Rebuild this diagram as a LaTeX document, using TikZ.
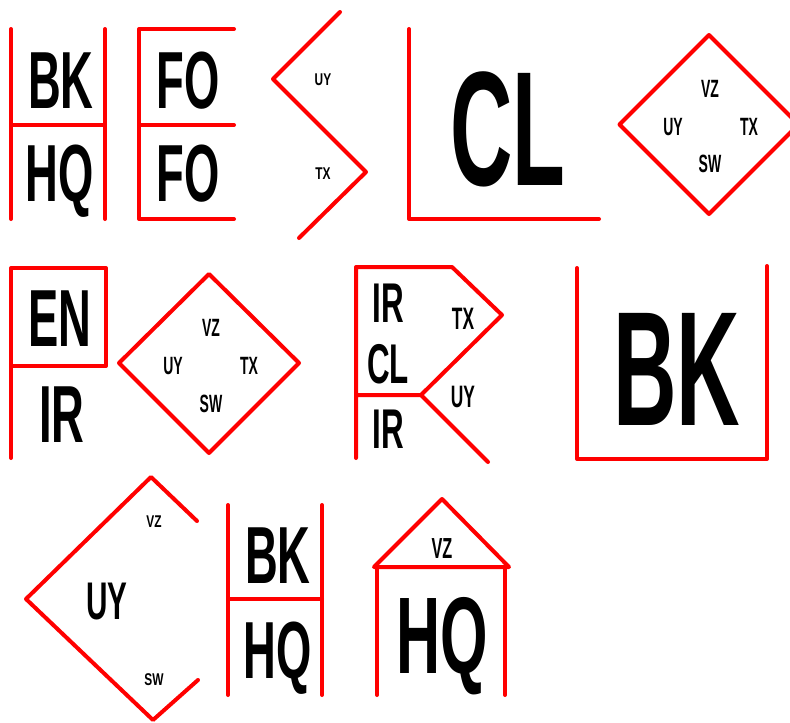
\documentclass[tikz,border=0pt]{standalone}
\usepackage{fontspec}
\setmainfont{Liberation Sans}
\usepackage{graphicx}
\newcommand{\lbl}[3][0.56]{\scalebox{#1}[1]{\fontsize{#2pt}{#2pt}\bfseries\selectfont #3}}
\tikzset{
  redline/.style={draw={rgb,255:red,255;green,0;blue,0}, line width=4pt, line cap=round, line join=round},
  lab/.style={inner sep=0pt, anchor=base, text=black}
}
\begin{document}
\begin{tikzpicture}[x=1pt,y=-1pt]
\useasboundingbox (0,0) rectangle (790,723);
% Panel 1: BK / HQ
\draw[redline] (11,29) -- (11,219);
\draw[redline] (105,29) -- (105,219);
\draw[redline] (11,125) -- (105,125);
\node[lab] (p1a) at (61,108) {\lbl{81}{BK}};
\node[lab] (p1b) at (60,201) {\lbl{81}{HQ}};
% Panel 2: FO / FO
\draw[redline] (234,29) -- (139,29) -- (139,219) -- (234,219);
\draw[redline] (139,125) -- (234,125);
\node[lab] (p2a) at (188,108) {\lbl{81}{FO}};
\node[lab] (p2b) at (188,201) {\lbl{81}{FO}};
% Panel 3: zigzag
\draw[redline] (340,12) -- (273,79) -- (366,172) -- (299,238);
\node[lab] (p3a) at (323,85) {\lbl[0.7]{17}{UY}};
\node[lab] (p3b) at (323,179) {\lbl[0.7]{17}{TX}};
% Panel 4: CL
\draw[redline] (409,29) -- (409,219) -- (599,219);
\node[lab] (p4a) at (508,185.5) {\lbl[0.53]{163}{CL}};
% Panel 5: diamond
\draw[redline] (709,35) -- (798.5,124.5) -- (709,214) -- (619.5,124.5) -- cycle;
\node[lab] (p5a) at (710,97) {\lbl{25}{VZ}};
\node[lab] (p5b) at (673,135) {\lbl{25}{UY}};
\node[lab] (p5c) at (749,135) {\lbl{25}{TX}};
\node[lab] (p5d) at (710,172) {\lbl{25}{SW}};
% Panel 6: EN / IR
\draw[redline] (11,458) -- (11,268) -- (106,268) -- (106,366) -- (11,366);
\node[lab] (p6a) at (60,346.5) {\lbl{81}{EN}};
\node[lab] (p6b) at (62,442.5) {\lbl{81}{IR}};
% Panel 7: diamond
\draw[redline] (209,274) -- (299,363) -- (209,453) -- (119,363) -- cycle;
\node[lab] (p7a) at (211,336) {\lbl{25}{VZ}};
\node[lab] (p7b) at (173,374) {\lbl{25}{UY}};
\node[lab] (p7c) at (249,374) {\lbl{25}{TX}};
\node[lab] (p7d) at (211,412) {\lbl{25}{SW}};
% Panel 8: IR CL IR
\draw[redline] (356,458) -- (356,267) -- (452,267) -- (502,315) -- (421,395) -- (356,395);
\draw[redline] (421,395) -- (488,462);
\node[lab] (p8a) at (388,322) {\lbl{56}{IR}};
\node[lab] (p8b) at (388,383) {\lbl{56}{CL}};
\node[lab] (p8c) at (388,448) {\lbl{56}{IR}};
\node[lab] (p8d) at (463,329) {\lbl{31}{TX}};
\node[lab] (p8e) at (463,407) {\lbl{31}{UY}};
% Panel 9: BK big
\draw[redline] (577,268) -- (577,459) -- (767,459) -- (767,266);
\node[lab] (p9a) at (677,425.5) {\lbl[0.54]{163}{BK}};
% Panel 10: UY chevron
\draw[redline] (197,521) -- (151,477) -- (26,599) -- (153,720) -- (198,680);
\node[lab] (p10a) at (107,619) {\lbl{53}{UY}};
\node[lab] (p10b) at (154,527) {\lbl[0.7]{17}{VZ}};
\node[lab] (p10c) at (154,685) {\lbl[0.7]{17}{SW}};
% Panel 11: BK / HQ
\draw[redline] (228,505) -- (228,695);
\draw[redline] (322,505) -- (322,695);
\draw[redline] (228,599) -- (322,599);
\node[lab] (p11a) at (278,583) {\lbl{81}{BK}};
\node[lab] (p11b) at (278,678) {\lbl{81}{HQ}};
% Panel 12: house
\draw[redline] (374,567) -- (442,499) -- (509,567) -- cycle;
\draw[redline] (377,567) -- (377,695);
\draw[redline] (505,567) -- (505,695);
\node[lab] (p12a) at (442,558.5) {\lbl{29}{VZ}};
\node[lab] (p12b) at (442,673) {\lbl{109}{HQ}};
\end{tikzpicture}
\end{document}
